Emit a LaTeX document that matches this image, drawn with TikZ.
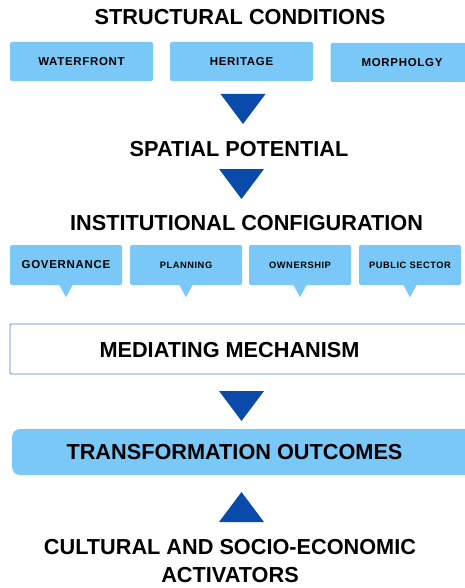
\documentclass[tikz,border=0pt]{standalone}
\usepackage{fontspec}
\setmainfont{Liberation Sans}
\usetikzlibrary{calc}
\definecolor{boxblue}{HTML}{7AC8F7}
\definecolor{triblue}{HTML}{0A4AAA}
\definecolor{lineblue}{HTML}{4F7FD6}
\begin{document}
\begin{tikzpicture}
    [%%%%%%%%%%%%%%%%%%%%%%%%%%%%%%
        x=1pt, y=-1pt,
        head/.style={inner sep=0pt, align=center, font=\bfseries\fontsize{21.7}{28}\selectfont},
        box/.style={rectangle, fill=boxblue, rounded corners=2pt, inner sep=0pt, font=\bfseries\fontsize{11.5}{13}\selectfont\addfontfeatures{LetterSpace=6}},
        smallbox/.style={box, minimum height=40, font=\bfseries\fontsize{9.3}{11}\selectfont\addfontfeatures{LetterSpace=6}},
        tri/.style={fill=triblue},
    ]%%%%%%%%%%%%%%%%%%%%%%%%%%%%%%

\useasboundingbox (0,0) rectangle (465,588);
\clip (0,0) rectangle (465,588);

\node[head] (structural) at (240,17.5) {STRUCTURAL CONDITIONS};

\node[box, minimum width=143, minimum height=39] (waterfront) at (81.5,61.5) {WATERFRONT};
\node[box, minimum width=143, minimum height=39] (heritage) at (241.5,61.5) {HERITAGE};
\node[box, minimum width=143, minimum height=39] (morphology) at (402,62.5) {MORPHOLGY};

\node[head] (spatial) at (239,149) {SPATIAL POTENTIAL};

\node[head] (institutional) at (246.5,223.5) {INSTITUTIONAL CONFIGURATION};

\node[smallbox, minimum width=112, font=\bfseries\fontsize{11.5}{13}\selectfont\addfontfeatures{LetterSpace=6}] (governance) at (66,265) {GOVERNANCE};
\node[smallbox, minimum width=112] (planning) at (186,265) {PLANNING};
\node[smallbox, minimum width=102] (ownership) at (300,265) {OWNERSHIP};
\node[smallbox, minimum width=102] (publicsector) at (410,265) {PUBLIC SECTOR};

\foreach \n in {governance, planning, ownership, publicsector}{
    \fill[boxblue] ($(\n.south)+(-7,-1)$) -- ++(14,0) -- ++(-7,13) -- cycle;
}

\node[rectangle, draw=lineblue, line width=0.8pt, rounded corners=1pt, minimum width=470, minimum height=50] (mediating) at (245,349) {};
\node[head] (mediatingtext) at (229.5,350) {MEDIATING MECHANISM};

\node[box, rounded corners=8pt, minimum width=470, minimum height=46] (transformation) at (247,452) {};
\node[head] (transformationtext) at (234.5,452) {TRANSFORMATION OUTCOMES};

\node[head] (cultural) at (230,561) {CULTURAL AND SOCIO-ECONOMIC\\ACTIVATORS};

% arrows between the stages
\fill[tri] (220.5,94) -- ++(45,0) -- ++(-22.5,30) -- cycle;
\foreach \y in {169,391}{
    \fill[tri] (219,\y) -- ++(45,0) -- ++(-22.5,30) -- cycle;
}
\fill[tri] (219,522) -- ++(45,0) -- ++(-22.5,-30) -- cycle;
\end{tikzpicture}
\end{document}
